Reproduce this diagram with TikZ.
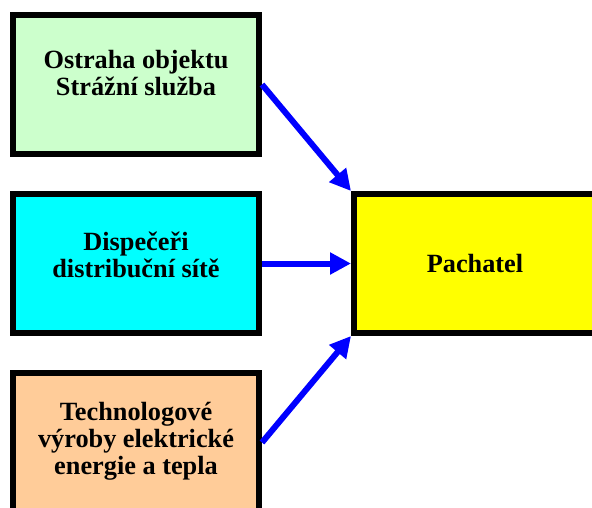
\documentclass[tikz,border=0pt]{standalone}
\usepackage{fontspec}
\setmainfont{Liberation Serif}
\usepackage{tikz}
\usetikzlibrary{arrows.meta, positioning}
\definecolor{guard-green}{HTML}{CCFFCC}
\definecolor{disp-cyan}{HTML}{00FFFF}
\definecolor{tech-peach}{HTML}{FFCC99}
\definecolor{perp-yellow}{HTML}{FFFF00}
\definecolor{link-blue}{HTML}{0000FF}

\begin{document}
\begin{tikzpicture}[
    x=1pt, y=1pt,
    node distance=34pt and 89pt,
    rolebox/.style={draw, line width=6pt, minimum width=246pt, minimum height=139pt, align=center, font=\bfseries\fontsize{26.3}{27}\selectfont},
    lift/.style={text depth=#1},
    link/.style={-{Triangle[length=21pt, width=21pt]}, line width=6pt, draw=link-blue}
]
    \useasboundingbox (0,0) rectangle (592,-507);

    % --- Nodes Definitions ---
    % left column
    \node (guard) [rolebox, lift=24pt, fill=guard-green] at (136,-84.5) {Ostraha objektu\\Strážní služba};
    \node (dispatch) [rolebox, lift=18pt, fill=disp-cyan, below=of guard] {Dispečeři\\distribuční sítě};
    \node (tech) [rolebox, lift=16pt, fill=tech-peach, minimum height=147pt, below=of dispatch] {Technologové\\výroby elektrické\\energie a tepla};

    % target
    \node (perp) [rolebox, fill=perp-yellow, minimum width=242pt, right=of dispatch] {Pachatel};

    % --- Connections ---
    \draw [link] (guard.east) -- (perp.north west);
    \draw [link] (dispatch.east) -- (perp.west);
    \draw [link] ([yshift=4pt]tech.east) -- (perp.south west);

\end{tikzpicture}
\end{document}
